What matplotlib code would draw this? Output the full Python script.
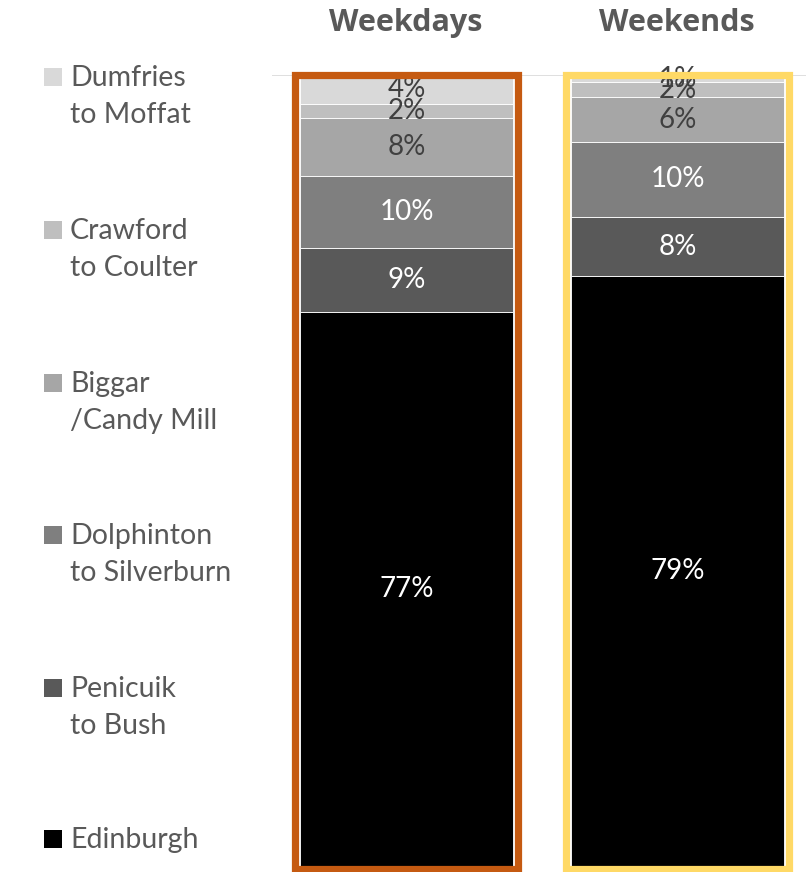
import matplotlib
matplotlib.use("Agg")
import matplotlib.pyplot as plt
from matplotlib.patches import Rectangle
import numpy as np

plt.rcParams['font.family'] = ['Lato', 'DejaVu Sans']

periods = ["Weekdays", "Weekends"]
routes = ["Edinburgh", "Penicuik\nto Bush", "Dolphinton\nto Silverburn",
          "Biggar\n/Candy Mill", "Crawford\nto Coulter", "Dumfries\nto Moffat"]
weekdays = [77, 9, 10, 8, 2, 4]
weekends = [79, 8, 10, 6, 2, 1]
colors = ["#000000", "#595959", "#7f7f7f", "#a6a6a6", "#bfbfbf", "#d9d9d9"]
label_colors = ["white", "white", "white", "#404040", "#404040", "#404040"]
frame_colors = ["#C55A11", "#FFD966"]

values = np.array([weekdays, weekends], dtype=float)   # rows: periods
shares = values / values.sum(axis=1, keepdims=True)     # 100% stacked

W, H = 806, 872
fig = plt.figure(figsize=(W / 100, H / 100), dpi=100)
ax = fig.add_axes([272 / W, 6 / H, 1 - 272 / W, (866 - 75) / H])

x = np.arange(len(periods))
bar_w = 0.785
bottom = np.zeros(len(periods))
for k, route in enumerate(routes):
    ax.bar(x, shares[:, k], bar_w, bottom=bottom, color=colors[k],
           edgecolor="white", linewidth=0.6, zorder=2)
    for i in range(len(periods)):
        ax.text(x[i], bottom[i] + shares[i, k] / 2, f"{int(values[i, k])}%",
                ha="center", va="center", fontsize=20,
                color=label_colors[k], zorder=3)
    bottom += shares[:, k]

# coloured frames around each period's column
for i in range(len(periods)):
    ax.add_patch(Rectangle((x[i] - 0.41, -0.0035), 0.82, 1.004,
                           fill=False, edgecolor=frame_colors[i],
                           linewidth=5.2, clip_on=False, zorder=5))

ax.axhline(1.0, color="#d9d9d9", linewidth=1.2, zorder=1)
ax.set_xlim(-0.496, 1.474)
ax.set_ylim(0, 1)
ax.axis("off")

for i, p in enumerate(periods):
    fig.text((405.5 + 271 * i) / W, 1 - 31 / H, p, ha="center", va="baseline",
             fontsize=22, fontweight="bold", color="#595959",
             family=["Open Sans", "DejaVu Sans"])

# legend, top entry first; y values are first-line baselines in pixels
legend_base = [86, 239, 392, 544, 697, 848]
for j, k in enumerate(range(len(routes) - 1, -1, -1)):
    yb = legend_base[j]
    fig.patches.append(Rectangle((44 / W, 1 - yb / H), 18 / W, 18 / H,
                                 transform=fig.transFigure,
                                 facecolor=colors[k], edgecolor="none"))
    lines = routes[k].split("\n")
    for n, line in enumerate(lines):
        fig.text(70 / W, 1 - (yb + 37 * n) / H, line, ha="left",
                 va="baseline", fontsize=20.5, color="#595959")

fig.savefig("out.png", dpi=100)
